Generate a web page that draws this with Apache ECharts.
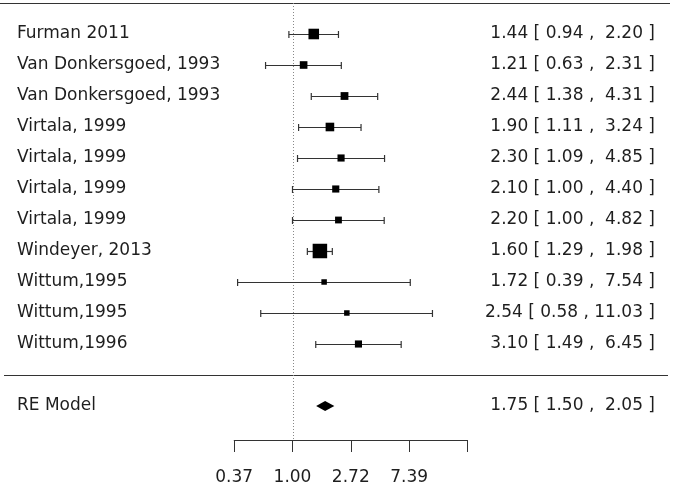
<!DOCTYPE html>
<html>
<head>
<meta charset="utf-8">
<script src="https://cdn.jsdelivr.net/npm/echarts@6/dist/echarts.min.js"></script>
<style>html,body{margin:0;padding:0;background:#fff}#c{width:675px;height:486px}</style>
</head>
<body>
<div id="c"></div>
<script>
// ---- data ----
const studies = ['Furman 2011','Van Donkersgoed, 1993','Van Donkersgoed, 1993','Virtala, 1999','Virtala, 1999','Virtala, 1999','Virtala, 1999','Windeyer, 2013','Wittum,1995','Wittum,1995','Wittum,1996'];
const estimates = [1.44,1.21,2.44,1.90,2.30,2.10,2.20,1.60,1.72,2.54,3.10];
const lowers    = [0.94,0.63,1.38,1.11,1.09,1.00,1.00,1.29,0.39,0.58,1.49];
const uppers    = [2.20,2.31,4.31,3.24,4.85,4.40,4.82,1.98,7.54,11.03,6.45];
const weights   = [18,9,9.5,12,7.5,7.5,6.5,30,2.5,2.5,7.5]; // estimated relative weights (%)
const summaryLabel = 'RE Model';
const summaryEst = 1.75, summaryLower = 1.50, summaryUpper = 2.05;
const tickValues = [-1,0,1,2,3];
const tickLabels = ['0.37','1.00','2.72','7.39',''];

// ---- layout ----
const W = 675, H = 486;
const X0_PX = 292.5, UNIT_PX = 58.3;   // log(1) position and px per log unit
const ROW0_PX = 3, ROW_PX = 31;
const AXIS_Y = 441;
const LEFT_TEXT_X = 17, RIGHT_TEXT_X = 655;
const FONT = 'DejaVu Sans', FS = 17;
const TXT = '#1e1e1e', LINE = '#333';

function pad(s, n){ while (s.length < n) s = ' ' + s; return s; }
function ciText(e,l,u){ return e.toFixed(2) + ' [' + pad(l.toFixed(2),5) + ' ,' + pad(u.toFixed(2),6) + ' ]'; }

const rows = studies.map((s,i)=>i+1);
const sepRow = studies.length + 1;
const sumRow = studies.length + 2;

const wMin = Math.min(...weights), wMax = Math.max(...weights);
function sizeFor(w){ return 5.5 + 9 * (w - wMin)/(wMax - wMin); }

const whiskerData = studies.map((s,i)=>[Math.log(lowers[i]), Math.log(uppers[i]), rows[i]]);
const squareData = studies.map((s,i)=>({value:[Math.log(estimates[i]), rows[i]], symbolSize: sizeFor(weights[i])}));
const textData = studies.map((s,i)=>[rows[i], i]);

const chart = echarts.init(document.getElementById('c'), null, {renderer:'canvas'});
chart.setOption({
  animation:false,
  backgroundColor:'#fff',
  grid:[
    {left:0, top:0, width:W, height:H},
    {left:X0_PX - UNIT_PX, width:(tickValues[tickValues.length-1]-tickValues[0])*UNIT_PX, top:AXIS_Y-10, height:10}
  ],
  xAxis:[
    {gridIndex:0, type:'value', min:-X0_PX/UNIT_PX, max:(W-X0_PX)/UNIT_PX, show:false},
    {gridIndex:1, type:'value', min:tickValues[0], max:tickValues[tickValues.length-1], interval:1,
     axisLine:{show:true, lineStyle:{color:LINE, width:1}},
     axisTick:{show:true, length:12, lineStyle:{color:LINE, width:1}},
     splitLine:{show:false},
     axisLabel:{margin:29, fontSize:17, fontFamily:FONT, color:TXT, showMinLabel:true, showMaxLabel:true,
       formatter:v=>{const k=tickValues.indexOf(Math.round(v)); return k>=0?tickLabels[k]:'';}}}
  ],
  yAxis:[
    {gridIndex:0, type:'value', inverse:true, min:-ROW0_PX/ROW_PX, max:(H-ROW0_PX)/ROW_PX, show:false},
    {gridIndex:1, type:'value', min:0, max:1, show:false}
  ],
  series:[
    { // frame lines + reference line
      type:'custom', xAxisIndex:0, yAxisIndex:0, silent:true, clip:false,
      data:[[0]],
      renderItem:(params, api)=>{
        const top = api.coord([0, 0]);
        const sep = api.coord([0, sepRow]);
        return {type:'group', children:[
          {type:'line', shape:{x1:0, y1:top[1]+0.5, x2:670, y2:top[1]+0.5}, style:{stroke:LINE, lineWidth:1}},
          {type:'line', shape:{x1:4, y1:sep[1]+0.5, x2:668, y2:sep[1]+0.5}, style:{stroke:LINE, lineWidth:1}},
          {type:'line', shape:{x1:Math.round(top[0])+0.5, y1:top[1], x2:Math.round(top[0])+0.5, y2:AXIS_Y}, style:{stroke:'#888', lineWidth:1, lineDash:[1,2]}}
        ]};
      }
    },
    { // CI whiskers
      type:'custom', xAxisIndex:0, yAxisIndex:0, silent:true, clip:false,
      data: whiskerData,
      renderItem:(params, api)=>{
        const a = api.coord([api.value(0), api.value(2)]);
        const b = api.coord([api.value(1), api.value(2)]);
        const y = Math.round(a[1]) + 0.5;
        const st = {stroke:'#333', lineWidth:1.2};
        return {type:'group', children:[
          {type:'line', shape:{x1:a[0], y1:y, x2:b[0], y2:y}, style:st},
          {type:'line', shape:{x1:a[0], y1:y-3.5, x2:a[0], y2:y+3.5}, style:st},
          {type:'line', shape:{x1:b[0], y1:y-3.5, x2:b[0], y2:y+3.5}, style:st}
        ]};
      }
    },
    { // point estimates
      type:'scatter', xAxisIndex:0, yAxisIndex:0, silent:true, symbol:'rect',
      itemStyle:{color:'#000', opacity:1}, data: squareData, z:5
    },
    { // summary diamond
      type:'custom', xAxisIndex:0, yAxisIndex:0, silent:true, clip:false,
      data:[[Math.log(summaryLower), Math.log(summaryEst), Math.log(summaryUpper), sumRow]],
      renderItem:(params, api)=>{
        const l = api.coord([api.value(0), api.value(3)]);
        const e = api.coord([api.value(1), api.value(3)]);
        const u = api.coord([api.value(2), api.value(3)]);
        return {type:'polygon', shape:{points:[[l[0],l[1]],[e[0],e[1]-5],[u[0],u[1]],[e[0],e[1]+5]]}, style:{fill:'#000'}};
      }
    },
    { // texts
      type:'custom', xAxisIndex:0, yAxisIndex:0, silent:true, clip:false,
      data: textData.concat([[sumRow, -1]]),
      renderItem:(params, api)=>{
        const r = api.value(0), i = api.value(1);
        const y = api.coord([0, r])[1];
        const left = i >= 0 ? studies[i] : summaryLabel;
        const right = i >= 0 ? ciText(estimates[i], lowers[i], uppers[i]) : ciText(summaryEst, summaryLower, summaryUpper);
        return {type:'group', children:[
          {type:'text', style:{x:LEFT_TEXT_X, y:y, text:left, fill:TXT, fontSize:FS, fontFamily:FONT, align:'left', verticalAlign:'middle'}},
          {type:'text', style:{x:RIGHT_TEXT_X, y:y, text:right, fill:TXT, fontSize:FS, fontFamily:FONT, align:'right', verticalAlign:'middle'}}
        ]};
      }
    }
  ]
});
</script>
</body>
</html>
